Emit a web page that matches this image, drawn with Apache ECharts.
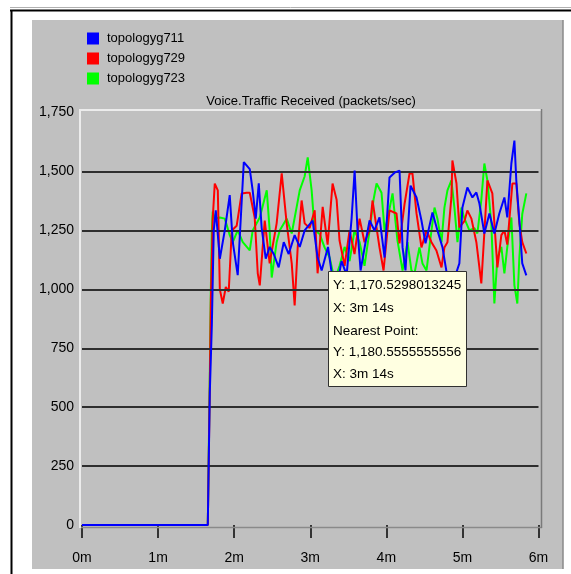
<!DOCTYPE html>
<html>
<head>
<meta charset="utf-8">
<script src="https://cdn.jsdelivr.net/npm/echarts@6/dist/echarts.min.js"></script>
<style>
html,body{margin:0;padding:0;background:#fff;}
#chart{width:571px;height:574px;}
</style>
</head>
<body>
<div id="chart"></div>
<script>
// ---- data (time in seconds, values in packets/sec) ----
var seriesNames = ['topologyg711', 'topologyg729', 'topologyg723'];
var seriesColors = ['#0000ff', '#ff0000', '#00ff00'];
var chartTitle = 'Voice.Traffic Received (packets/sec)';

var g711Time = [0, 99.2, 100.0, 100.8, 102.4, 103.9, 105.5, 108.7, 112.6, 116.5, 118.9, 122.8, 127.6, 132.3, 134.6, 137.0, 139.4, 141.7, 144.9, 148.0, 151.2, 155.1, 159.1, 163.0, 167.7, 171.7, 175.6, 181.9, 185.8, 189.0, 194.0, 196.9, 200.8, 204.7, 208.7, 212.6, 215.0, 217.3, 219.7, 223.6, 226.8, 230.7, 234.6, 238.6, 242.5, 246.5, 250.4, 252.8, 255.1, 259.1, 263.8, 267.7, 270.9, 276.4, 280.3, 284.3, 288.2, 291.3, 294.5, 297.6, 300.0, 303.9, 307.9, 311.0, 313.4, 317.3, 321.3, 325.2, 329.1, 333.1, 335.4, 338.6, 341.0, 342.5, 344.9, 347.2, 350.4];
var g711Value = [0, 0, 290, 565, 850, 1250, 1335, 1130, 1250, 1400, 1200, 1060, 1540, 1510, 1420, 1300, 1450, 1260, 1130, 1180, 1150, 1093, 1200, 1150, 1230, 1180, 1250, 1292, 1135, 1080, 1180, 1070, 1010, 1120, 1060, 1300, 1504, 1250, 1080, 1200, 1292, 1250, 1305, 1135, 1475, 1495, 1504, 1178, 1080, 1440, 1390, 1292, 1195, 1326, 1250, 1178, 1050, 1000, 1060, 1110, 1347, 1432, 1390, 1411, 1364, 1237, 1322, 1237, 1322, 1390, 1305, 1534, 1631, 1462, 1292, 1110, 1059];

var g729Time = [0, 99.2, 100.0, 100.8, 101.6, 103.1, 104.7, 107.1, 108.7, 111.0, 113.4, 115.7, 118.1, 122.0, 125.9, 129.9, 132.3, 136.2, 138.6, 140.2, 144.1, 148.0, 153.5, 157.5, 161.4, 165.4, 167.7, 170.1, 173.2, 175.6, 179.5, 183.5, 185.8, 189.8, 193.7, 197.6, 200.8, 203.1, 207.1, 211.0, 214.9, 218.9, 222.8, 226.8, 229.1, 234.6, 237.8, 242.5, 248.0, 250.4, 254.3, 258.3, 260.6, 263.8, 267.7, 271.7, 275.6, 279.5, 283.5, 285.8, 288.2, 291.3, 292.1, 295.3, 297.6, 301.6, 303.9, 307.1, 311.0, 314.9, 317.3, 319.7, 323.6, 327.6, 330.7, 333.1, 335.4, 339.4, 342.5, 344.9, 347.2, 350.4];
var g729Value = [0, 0, 300, 600, 950, 1300, 1449, 1420, 1000, 940, 1010, 990, 1250, 1270, 1407, 1410, 1410, 1305, 1068, 1017, 1292, 1110, 1280, 1492, 1280, 1110, 932, 1178, 1377, 1280, 1260, 1335, 1068, 1350, 1190, 1449, 1380, 1207, 1100, 1250, 1150, 1300, 1200, 1250, 1377, 1178, 1080, 1335, 1322, 1195, 1360, 1492, 1492, 1322, 1178, 1250, 1200, 1165, 1093, 1178, 1200, 1390, 1547, 1450, 1263, 1290, 1335, 1300, 1200, 1025, 1240, 1462, 1407, 1093, 1230, 1250, 1190, 1449, 1449, 1280, 1200, 1152];

var g723Time = [0, 99.2, 100.0, 100.8, 101.6, 102.4, 103.1, 104.7, 108.7, 112.6, 116.5, 118.9, 122.8, 126.8, 132.3, 134.6, 140.2, 145.7, 148.0, 149.6, 153.5, 155.9, 161.4, 165.4, 169.3, 171.7, 175.6, 178.0, 181.1, 183.5, 187.4, 191.3, 195.3, 199.2, 203.1, 207.1, 211.0, 214.9, 218.9, 222.8, 226.8, 229.9, 232.3, 236.2, 238.6, 241.0, 244.9, 248.8, 252.8, 256.7, 259.8, 262.2, 266.1, 268.5, 271.7, 275.6, 278.0, 280.3, 283.5, 285.8, 288.2, 291.3, 293.7, 296.1, 299.2, 301.6, 305.5, 309.4, 311.8, 314.9, 317.3, 319.7, 322.8, 325.2, 327.6, 330.7, 333.1, 335.4, 338.6, 341.0, 343.3, 344.9, 347.2, 350.4];
var g723Value = [0, 0, 330, 650, 1000, 1250, 1330, 1300, 1305, 1300, 1230, 1200, 1250, 1200, 1165, 1250, 1305, 1420, 1250, 1050, 1200, 1250, 1300, 1237, 1350, 1420, 1480, 1560, 1420, 1250, 1235, 1178, 1135, 1038, 1100, 1180, 1120, 1250, 1200, 1100, 1250, 1380, 1449, 1410, 1250, 1300, 1407, 1207, 1080, 1200, 1080, 1068, 1178, 1110, 1080, 1250, 1347, 1300, 1200, 1347, 1420, 1462, 1347, 1200, 1347, 1300, 1250, 1260, 1237, 1380, 1534, 1462, 1280, 940, 1135, 1180, 1068, 1180, 1305, 1017, 940, 1135, 1320, 1407];

var yTicks = [0, 250, 500, 750, 1000, 1250, 1500, 1750];
var yGridValues = [250, 500, 750, 1000, 1250, 1500];
var xTicksMinutes = [0, 1, 2, 3, 4, 5, 6];

var tooltipLines = ['Y: 1,170.5298013245', 'X: 3m 14s', 'Nearest Point:', 'Y: 1,180.5555555556', 'X: 3m 14s'];

// ---- build ----
function pairs(t, v) { return t.map(function (x, i) { return [x, v[i]]; }); }
var FONT = '"Liberation Sans", Arial, sans-serif';

var chart = echarts.init(document.getElementById('chart'), null, {renderer: 'canvas', width: 571, height: 574});

var lineSeries = [
  {name: seriesNames[2], color: seriesColors[2], data: pairs(g723Time, g723Value)},
  {name: seriesNames[1], color: seriesColors[1], data: pairs(g729Time, g729Value)},
  {name: seriesNames[0], color: seriesColors[0], data: pairs(g711Time, g711Value)}
].map(function (s, i) {
  return {
    name: s.name, type: 'line', data: s.data, showSymbol: false, symbol: 'none',
    lineStyle: {color: s.color, width: 2}, itemStyle: {color: s.color},
    emphasis: {disabled: true}, silent: true, animation: false, z: 3 + i
  };
});
lineSeries.push({
  name: 'grid', type: 'line', data: [], silent: true, z: 1, animation: false,
  markLine: {
    silent: true, symbol: 'none', animation: false,
    label: {show: false},
    lineStyle: {color: '#2e2e2e', width: 2, type: 'solid'},
    data: yGridValues.map(function (v) { return {yAxis: v}; })
  }
});

var tooltipGraphics = [{
  type: 'rect', shape: {x: 328.5, y: 271.5, width: 138, height: 115},
  style: {fill: '#ffffe1', stroke: '#303030', lineWidth: 1}, z: 100
}];
var lineYs = [285, 308, 331, 352, 374];
tooltipLines.forEach(function (t, i) {
  tooltipGraphics.push({
    type: 'text', x: 333, y: lineYs[i], z: 101,
    style: {text: t, fill: '#000', font: '13.5px ' + FONT, textVerticalAlign: 'middle', textAlign: 'left'}
  });
});

var option = {
  backgroundColor: '#ffffff',
  animation: false,
  textStyle: {fontFamily: FONT},
  legend: {
    data: seriesNames, orient: 'vertical', left: 87, top: 32, padding: 0,
    itemWidth: 12, itemHeight: 12, itemGap: 7, icon: 'rect',
    textStyle: {fontSize: 13, color: '#000', fontFamily: FONT, padding: [0, 0, 0, 3]},
    selectedMode: false
  },
  grid: {left: 82, top: 112.6, width: 456.5, height: 412.4, containLabel: false},
  xAxis: {
    type: 'value', min: 0, max: 360, interval: 60, offset: 5,
    axisLine: {show: false},
    axisTick: {show: true, length: 13, lineStyle: {color: '#333', width: 2}},
    splitLine: {show: false},
    axisLabel: {
      color: '#000', fontSize: 14, fontFamily: FONT, margin: 21,
      formatter: function (v) { return (v / 60) + 'm'; }
    }
  },
  yAxis: {
    type: 'value', min: 0, max: 1750, interval: 250,
    axisLine: {show: false}, axisTick: {show: false},
    splitLine: {show: false},
    axisLabel: {
      color: '#000', fontSize: 14, fontFamily: FONT, margin: 8,
      formatter: function (v) { return v.toLocaleString('en-US'); }
    }
  },
  graphic: [
    // outer frame
    {type: 'rect', shape: {x: 32, y: 20, width: 531, height: 549}, style: {fill: '#c0c0c0'}, z: -100},
    {type: 'line', shape: {x1: 563, y1: 20, x2: 563, y2: 569}, style: {stroke: '#8a8a8a', lineWidth: 1.5}, z: -99},
    {type: 'line', shape: {x1: 10, y1: 7.5, x2: 571, y2: 7.5}, style: {stroke: '#b0b0b0', lineWidth: 1}, z: -99},
    {type: 'line', shape: {x1: 10, y1: 10.5, x2: 571, y2: 10.5}, style: {stroke: '#000', lineWidth: 2}, z: -99},
    {type: 'line', shape: {x1: 11.5, y1: 10, x2: 11.5, y2: 574}, style: {stroke: '#000', lineWidth: 2}, z: -99},
    // plot box borders
    {type: 'line', shape: {x1: 80, y1: 110, x2: 542, y2: 110}, style: {stroke: '#ececec', lineWidth: 2}, z: 50},
    {type: 'line', shape: {x1: 80, y1: 109, x2: 80, y2: 528}, style: {stroke: '#ececec', lineWidth: 2}, z: 50},
    {type: 'line', shape: {x1: 541.5, y1: 109, x2: 541.5, y2: 528}, style: {stroke: '#7a7a7a', lineWidth: 1.5}, z: 50},
    {type: 'line', shape: {x1: 80, y1: 527.5, x2: 542, y2: 527.5}, style: {stroke: '#8a8a8a', lineWidth: 1.5}, z: 1},
    // chart title
    {type: 'text', x: 311, y: 101, z: 60,
     style: {text: chartTitle, fill: '#000', font: '13px ' + FONT, textAlign: 'center', textVerticalAlign: 'middle'}}
  ].concat(tooltipGraphics),
  series: lineSeries
};
chart.setOption(option);
</script>
</body>
</html>
